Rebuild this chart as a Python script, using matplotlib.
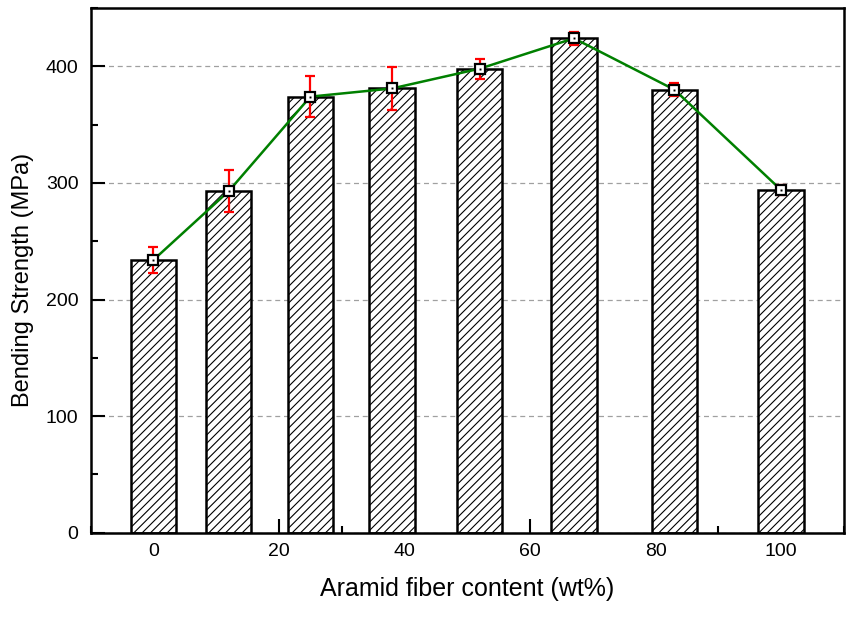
import matplotlib
matplotlib.use("Agg")
import matplotlib.pyplot as plt
from matplotlib.ticker import MultipleLocator

plt.rcParams['font.family'] = ['Liberation Sans', 'DejaVu Sans']
plt.rcParams['hatch.linewidth'] = 0.8
plt.rcParams['hatch.color'] = '#111111'

# Aramid fiber content (wt%) and bending strength (MPa)
content = [0, 12, 25, 38, 52, 67, 83, 100]
strength = [234, 293, 374, 381, 398, 424, 380, 294]
error = [11, 18, 17.5, 18.5, 8.5, 5.5, 5.5, 4.5]
xticks = [0, 20, 40, 60, 80, 100]
yticks = [0, 100, 200, 300, 400]

fig = plt.figure(figsize=(8.48, 6.17), dpi=100)
ax = fig.add_axes([0.107, 0.1366, 0.888, 0.8504])

ax.grid(axis='y', color='#a0a0a0', linestyle=(0, (4, 3)), linewidth=0.9)
ax.set_axisbelow(True)

ax.bar(content, strength, width=7.2, facecolor='white', edgecolor='black',
       linewidth=1.8, hatch='////', zorder=2)

ax.errorbar(content, strength, yerr=error, fmt='none', ecolor='red',
            elinewidth=1.6, capsize=3.4, capthick=1.6, zorder=3)
ax.plot(content, strength, color='#008000', linewidth=1.8, zorder=4)
ax.plot(content, strength, linestyle='none', marker='s', markersize=7,
        markerfacecolor='white', markeredgecolor='black',
        markeredgewidth=1.6, zorder=5)
ax.plot(content, strength, linestyle='none', marker='s', markersize=1.4,
        markerfacecolor='black', markeredgecolor='black',
        markeredgewidth=0, zorder=6)

ax.set_xlim(-10, 110)
ax.set_ylim(0, 450)
ax.set_xticks(xticks)
ax.set_yticks(yticks)
ax.xaxis.set_minor_locator(MultipleLocator(10))
ax.yaxis.set_minor_locator(MultipleLocator(50))
ax.tick_params(which='major', direction='in', length=10, width=1.5,
               labelsize=14)
ax.tick_params(which='minor', direction='in', length=5, width=1.5)
ax.tick_params(axis='x', which='major', pad=7.4)
ax.tick_params(axis='y', which='major', pad=8.9)
ax.tick_params(top=False, right=False, which='both')

for s in ax.spines.values():
    s.set_linewidth(1.8)

ax.set_xlabel('Aramid fiber content (wt%)', fontsize=18)
ax.set_ylabel('Bending Strength (MPa)', fontsize=17)
ax.xaxis.set_label_coords(0.5, -0.0844)
ax.yaxis.set_label_coords(-0.0753, 0.4816)

fig.savefig('out.png', dpi=100)
